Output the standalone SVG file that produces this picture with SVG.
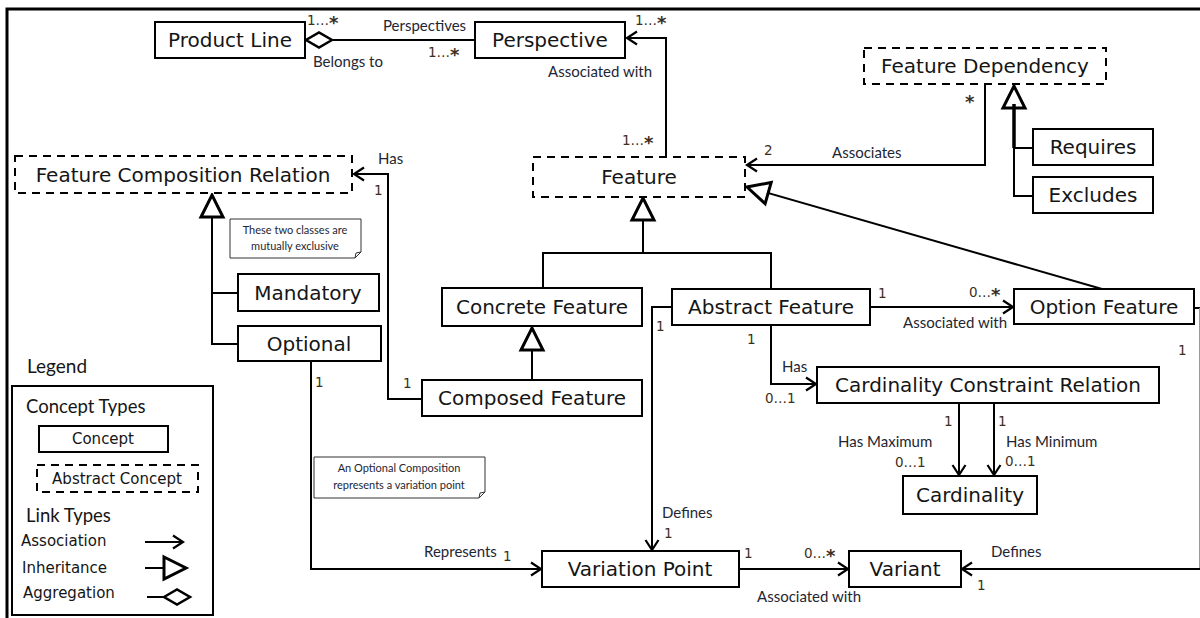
<svg xmlns="http://www.w3.org/2000/svg" width="1200" height="618" viewBox="0 0 1200 618">
<style>
.box{fill:#fff;stroke:#000;stroke-width:2}
.abs{fill:#fff;stroke:#000;stroke-width:2;stroke-dasharray:8 6}
.nt{font-family:"DejaVu Sans",Verdana,sans-serif;font-size:20px;fill:#151515;text-anchor:middle}
.lb{font-family:Lato,"Liberation Sans",sans-serif;font-size:15px;fill:#1e2633}
.mu{font-family:"DejaVu Sans",Verdana,sans-serif;font-size:13.5px;fill:#3c2f22}
.st{font-size:18px;font-weight:bold}
.note{fill:#fff;stroke:#333;stroke-width:1}
.nx{font-family:Lato,"Liberation Sans",sans-serif;font-size:11px;fill:#1e2633;text-anchor:middle}
.conn path{fill:none;stroke:#000;stroke-width:2}
.lg{font-family:Lato,"Liberation Sans",sans-serif;font-size:19px;fill:#151515}
.lt{font-family:"DejaVu Sans",Verdana,sans-serif;font-size:15px;fill:#151515}
</style>
<defs>
<marker id="arr" viewBox="0 0 14 16" refX="12" refY="8" markerWidth="14" markerHeight="16" orient="auto" markerUnits="userSpaceOnUse" overflow="visible"><path d="M2,1.5 L12,8 L2,14.5" fill="none" stroke="#000" stroke-width="2.2"/></marker>
<marker id="tri" viewBox="0 0 26 26" refX="24" refY="13" markerWidth="26" markerHeight="26" orient="auto" markerUnits="userSpaceOnUse" overflow="visible"><path d="M2,2 L24,13 L2,24 Z" fill="#fff" stroke="#000" stroke-width="3"/></marker>
<marker id="dia" viewBox="0 0 30 18" refX="28" refY="9" markerWidth="30" markerHeight="18" orient="auto" markerUnits="userSpaceOnUse" overflow="visible"><path d="M2,9 L15,1.5 L28,9 L15,16.5 Z" fill="#fff" stroke="#000" stroke-width="2.5"/></marker>
</defs>
<rect width="1200" height="618" fill="#fff"/>
<path d="M7,618 V9 H1200" fill="none" stroke="#000" stroke-width="3"/>

<g class="conn" id="connectors">
<path d="M475,40 H306" marker-end="url(#dia)"/>
<path d="M666,157 V38 H627" marker-end="url(#arr)"/>
<path d="M985,84 V165 H747" marker-end="url(#arr)"/>
<path d="M1033,196 H1014 V86" marker-end="url(#tri)"/>
<path d="M1033,148 H1014"/>
<path d="M1014,148 V104" style="stroke-width:3.5"/>
<path d="M543,288 V253 H771 V289"/>
<path d="M643,253 V198" marker-end="url(#tri)"/>
<path d="M532,380 V328" marker-end="url(#tri)"/>
<path d="M238,293 H212"/>
<path d="M238,344 H212 V195" marker-end="url(#tri)"/>
<path d="M422,399 H388 V174 H354" marker-end="url(#arr)"/>
<path d="M311,361 V569 H541" marker-end="url(#arr)"/>
<path d="M672,307 H652 V550" marker-end="url(#arr)"/>
<path d="M771,325 V384 H816" marker-end="url(#arr)"/>
<path d="M870,307 H1013" marker-end="url(#arr)"/>
<path d="M1102,289 L747,187" marker-end="url(#tri)"/>
<path d="M959,403 V475" marker-end="url(#arr)"/>
<path d="M994,403 V475" marker-end="url(#arr)"/>
<path d="M739,569 H848" marker-end="url(#arr)"/>
<path d="M1194,308 H1200"/>
<path d="M1199.5,308 V569" style="stroke:#999;stroke-width:1"/>
<path d="M1200,569 H962" marker-end="url(#arr)"/>
</g>

<g id="product-line"><rect class="box" x="155" y="22" width="150" height="36"/><text class="nt" x="230" y="47">Product Line</text></g>
<g id="perspective"><rect class="box" x="475" y="22" width="150" height="36"/><text class="nt" x="550" y="47">Perspective</text></g>
<g id="feature-dependency"><rect class="abs" x="864" y="48" width="242" height="36"/><text class="nt" x="985" y="73">Feature Dependency</text></g>
<g id="feature"><rect class="abs" x="533" y="157" width="212" height="40"/><text class="nt" x="639" y="184">Feature</text></g>
<g id="feature-composition-relation"><rect class="abs" x="15" y="156" width="337" height="37"/><text class="nt" x="183" y="182">Feature Composition Relation</text></g>
<g id="requires"><rect class="box" x="1033" y="129" width="120" height="36"/><text class="nt" x="1093" y="154">Requires</text></g>
<g id="excludes"><rect class="box" x="1033" y="177" width="120" height="36"/><text class="nt" x="1093" y="202">Excludes</text></g>
<g id="mandatory"><rect class="box" x="238" y="274" width="141" height="37"/><text class="nt" x="308" y="300">Mandatory</text></g>
<g id="optional"><rect class="box" x="238" y="326" width="143" height="35"/><text class="nt" x="309" y="351">Optional</text></g>
<g id="concrete-feature"><rect class="box" x="442" y="288" width="200" height="38"/><text class="nt" x="542" y="314">Concrete Feature</text></g>
<g id="abstract-feature"><rect class="box" x="672" y="289" width="198" height="36"/><text class="nt" x="771" y="314">Abstract Feature</text></g>
<g id="option-feature"><rect class="box" x="1014" y="289" width="180" height="35"/><text class="nt" x="1104" y="314">Option Feature</text></g>
<g id="composed-feature"><rect class="box" x="422" y="380" width="220" height="36"/><text class="nt" x="532" y="405">Composed Feature</text></g>
<g id="cardinality-constraint-relation"><rect class="box" x="817" y="367" width="342" height="36"/><text class="nt" x="988" y="392">Cardinality Constraint Relation</text></g>
<g id="cardinality"><rect class="box" x="903" y="476" width="134" height="38"/><text class="nt" x="970" y="502">Cardinality</text></g>
<g id="variation-point"><rect class="box" x="542" y="551" width="197" height="36"/><text class="nt" x="640" y="576">Variation Point</text></g>
<g id="variant"><rect class="box" x="849" y="551" width="112" height="36"/><text class="nt" x="905" y="576">Variant</text></g>

<g id="note-exclusive"><path class="note" d="M230,219 H361 V252 L355,258 H230 Z"/><path d="M355,258 L356,253 L361,252" fill="none" stroke="#333" stroke-width="1"/><text class="nx" x="295" y="234">These two classes are</text><text class="nx" x="295" y="250">mutually exclusive</text></g>
<g id="note-optional"><path class="note" d="M314,457 H485 V492 L479,498 H314 Z"/><path d="M479,498 L480,493 L485,492" fill="none" stroke="#333" stroke-width="1"/><text class="nx" x="399" y="472">An Optional Composition</text><text class="nx" x="399" y="489">represents a variation point</text></g>

<g id="labels">
<text class="mu" x="307" y="25">1…<tspan class="st" dy="3.5">*</tspan></text>
<text class="lb" x="383" y="31">Perspectives</text>
<text class="lb" x="313" y="67">Belongs to</text>
<text class="mu" x="428" y="57">1…<tspan class="st" dy="3.5">*</tspan></text>
<text class="mu" x="635" y="25">1…<tspan class="st" dy="3.5">*</tspan></text>
<text class="lb" x="548" y="77">Associated with</text>
<text class="mu" x="622" y="145">1…<tspan class="st" dy="3.5">*</tspan></text>
<text class="mu st" x="965" y="108">*</text>
<text class="mu" x="764" y="155">2</text>
<text class="lb" x="832" y="158">Associates</text>
<text class="lb" x="378" y="164">Has</text>
<text class="mu" x="374" y="195">1</text>
<text class="mu" x="315" y="387">1</text>
<text class="mu" x="403" y="388">1</text>
<text class="mu" x="656" y="331">1</text>
<text class="mu" x="747" y="344">1</text>
<text class="lb" x="782" y="372">Has</text>
<text class="mu" x="765" y="403">0…1</text>
<text class="mu" x="878" y="298">1</text>
<text class="mu" x="969" y="297">0…<tspan class="st" dy="3.5">*</tspan></text>
<text class="lb" x="903" y="328">Associated with</text>
<text class="mu" x="1178" y="355">1</text>
<text class="mu" x="944" y="426">1</text>
<text class="mu" x="998" y="426">1</text>
<text class="lb" x="838" y="447">Has Maximum</text>
<text class="mu" x="895" y="467">0…1</text>
<text class="lb" x="1006" y="447">Has Minimum</text>
<text class="mu" x="1005" y="466">0…1</text>
<text class="lb" x="662" y="518">Defines</text>
<text class="mu" x="664" y="538">1</text>
<text class="lb" x="424" y="557">Represents</text>
<text class="mu" x="503" y="561">1</text>
<text class="mu" x="744" y="558">1</text>
<text class="mu" x="804" y="558">0…<tspan class="st" dy="3.5">*</tspan></text>
<text class="lb" x="757" y="602">Associated with</text>
<text class="lb" x="991" y="557">Defines</text>
<text class="mu" x="977" y="590">1</text>
</g>

<g id="legend">
<text class="lg" x="27" y="373">Legend</text>
<rect x="12" y="386" width="201" height="229" fill="none" stroke="#000" stroke-width="2"/>
<text class="lg" x="26" y="413" style="font-size:18.5px">Concept Types</text>
<rect class="box" x="39" y="426" width="129" height="26"/><text class="lt" x="103" y="444" text-anchor="middle">Concept</text>
<rect class="abs" x="37" y="465" width="161" height="27"/><text class="lt" x="117" y="484" text-anchor="middle">Abstract Concept</text>
<text class="lg" x="26" y="522" style="font-size:18.5px">Link Types</text>
<text class="lt" x="21" y="546">Association</text>
<text class="lt" x="22" y="573">Inheritance</text>
<text class="lt" x="23" y="598">Aggregation</text>
<g class="conn">
<path d="M145,542 H183" marker-end="url(#arr)"/>
<path d="M145,568 H186" marker-end="url(#tri)"/>
<path d="M147,597 H190" marker-end="url(#dia)"/>
</g>
</g>
</svg>
